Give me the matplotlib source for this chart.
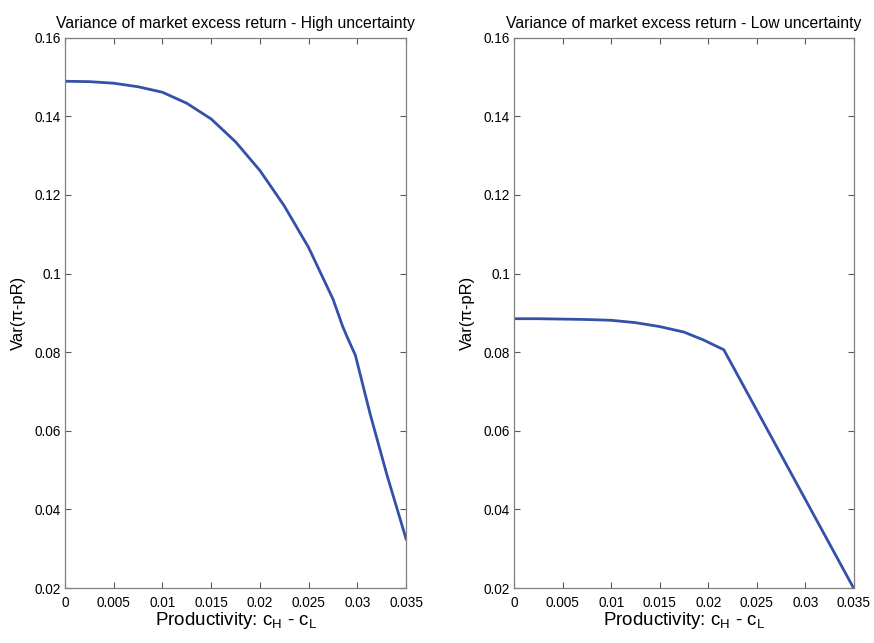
import matplotlib
matplotlib.use("Agg")
import matplotlib.pyplot as plt
import numpy as np

plt.rcParams['font.family'] = ['Liberation Sans', 'DejaVu Sans']
plt.rcParams['mathtext.fontset'] = 'custom'
plt.rcParams['mathtext.rm'] = 'Liberation Sans'
plt.rcParams['mathtext.it'] = 'Liberation Sans'

# High uncertainty
x_high = [0.0, 0.0025, 0.005, 0.0075, 0.01, 0.0125, 0.015, 0.0175, 0.02, 0.0225,
          0.025, 0.0275, 0.0285, 0.029, 0.0298, 0.0313, 0.033, 0.035]
y_high = [0.1489, 0.1488, 0.1484, 0.1475, 0.1461, 0.1433, 0.1393, 0.1335, 0.1262, 0.1172,
          0.1066, 0.0935, 0.0865, 0.0836, 0.0792, 0.0644, 0.0491, 0.0325]

# Low uncertainty
x_low = [0.0, 0.0025, 0.005, 0.0075, 0.01, 0.0125, 0.015, 0.0175, 0.0195, 0.0216,
         0.025, 0.03, 0.035]
y_low = [0.0885, 0.0885, 0.0884, 0.0883, 0.0881, 0.0875, 0.0865, 0.0851, 0.0831, 0.0806,
         0.0652, 0.0425, 0.0198]

titles = ["Variance of market excess return - High uncertainty",
          "Variance of market excess return - Low uncertainty"]
xticks = [0, 0.005, 0.01, 0.015, 0.02, 0.025, 0.03, 0.035]
xticklabels = ["0", "0.005", "0.01", "0.015", "0.02", "0.025", "0.03", "0.035"]
yticks = [0.02, 0.04, 0.06, 0.08, 0.1, 0.12, 0.14, 0.16]
yticklabels = ["0.02", "0.04", "0.06", "0.08", "0.1", "0.12", "0.14", "0.16"]

fig = plt.figure(figsize=(8.74, 6.43), dpi=100)
ax1 = fig.add_axes([0.0744, 0.0855, 0.3902, 0.856])
ax2 = fig.add_axes([0.5881, 0.0855, 0.389, 0.856])

line_color = '#3450A8'
for ax, xs, ys, t in [(ax1, x_high, y_high, titles[0]), (ax2, x_low, y_low, titles[1])]:
    ax.plot(xs, ys, color=line_color, linewidth=2.0)
    ax.set_xlim(0, 0.035)
    ax.set_ylim(0.02, 0.16)
    ax.set_xticks(xticks)
    ax.set_xticklabels(xticklabels)
    ax.set_yticks(yticks)
    ax.set_yticklabels(yticklabels)
    ax.tick_params(direction='in', top=True, right=True, length=4, width=0.8,
                   labelsize=9.8, colors='0.35', labelcolor='black', pad=3)
    ax.tick_params(axis='x', pad=6)
    for s in ax.spines.values():
        s.set_color('0.5')
        s.set_linewidth(0.9)
    ax.set_title(t, fontsize=11.3, pad=7)
    ax.set_xlabel('Productivity: c$_{H}$ - c$_{L}$', fontsize=13.5, labelpad=0)
    ax.set_ylabel('Var(\u03c0-pR)', fontsize=12, labelpad=6)

fig.savefig('out.png', dpi=100)
